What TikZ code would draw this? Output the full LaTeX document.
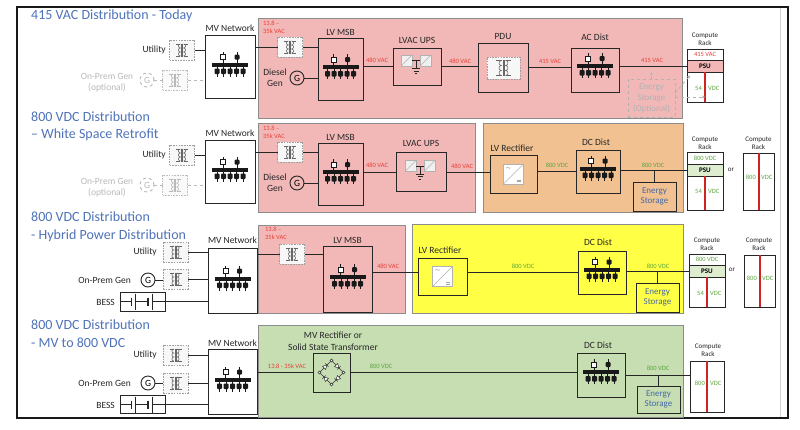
\documentclass[tikz,border=0pt]{standalone}
\usepackage{fontspec}
\setmainfont{Carlito}
\usetikzlibrary{arrows.meta}
\definecolor{pinkr}{RGB}{242,184,184}
\definecolor{orng}{RGB}{241,193,146}
\definecolor{yell}{RGB}{255,255,70}
\definecolor{grn}{RGB}{198,222,178}
\definecolor{vred}{RGB}{232,62,52}
\definecolor{vgrn}{RGB}{90,165,60}
\definecolor{ttl}{RGB}{79,115,185}
\definecolor{esb}{RGB}{70,105,165}
\definecolor{psug}{RGB}{222,236,208}
\definecolor{rline}{RGB}{205,35,35}
\tikzset{
 wire/.style={draw=black!85,line width=1pt},
 box/.style={draw=black!85,line width=1pt,inner sep=0pt,outer sep=0pt},
 region/.style={draw=black!45,line width=0.7pt},
 xbox/.style={draw=gray!75,dash pattern=on 1.6pt off 1.1pt,fill=gray!6,line width=0.7pt,minimum width=25,minimum height=20,inner sep=0pt,outer sep=0pt},
 lbl/.style={font=\fontsize{9.5}{11}\selectfont,inner sep=0pt,text=black!85,align=center},
 ttlf/.style={font=\fontsize{14}{17}\selectfont,text=ttl,inner sep=0pt,align=left,anchor=west},
 vac/.style={font=\fontsize{6.5}{8}\selectfont,text=vred,inner sep=0pt,align=left},
 vdc/.style={font=\fontsize{6.5}{8}\selectfont,text=vgrn,inner sep=0pt},
 sm/.style={font=\fontsize{7}{8.5}\selectfont,inner sep=0pt,text=black!85,align=center},
 gen/.style={circle,draw=black!85,line width=0.9pt,minimum size=14,inner sep=0pt,font=\fontsize{9.5}{9.5}\selectfont},
 rack/.style={draw=black!85,line width=1pt,fill=white,inner sep=0pt,outer sep=0pt},
 psub/.style={draw=black!85,line width=0.8pt,inner sep=0pt,outer sep=0pt,minimum height=12,font=\bfseries\fontsize{7}{7}\selectfont},
 esbox/.style={draw=black!85,line width=1pt,inner sep=0pt,outer sep=0pt,text=esb,font=\fontsize{9}{10.5}\selectfont,align=center},
 redl/.style={draw=rline,line width=2pt},
 dasharr/.style={draw=gray!60,dashed,line width=0.8pt,-{Stealth[length=3pt,width=3pt]}},
 busbar/.pic={
  \fill[black!90] (-18,-2) rectangle (18,2);
  \foreach \xx in {-13,-6.5,0,6.5,13}{
   \draw[black!90,line width=0.9pt] (\xx,2) -- (\xx,12);
   \fill[black!90,rounded corners=0.8pt] (\xx-2.5,4) rectangle (\xx+2.5,9.5);
  }
  \draw[black!90,line width=0.9pt] (-7,-2) -- (-7,-13);
  \draw[black!90,fill=white,line width=0.8pt] (-9.5,-10) rectangle (-4.5,-5);
  \draw[black!90,line width=0.9pt] (7,-2) -- (7,-13);
  \fill[black!90,rounded corners=1pt] (4.5,-10) rectangle (9.5,-5);
 },
 coil/.pic={
  \draw[line width=0.55pt] (-1.6,6) arc(90:270:2) arc(90:270:2) arc(90:270:2);
  \draw[line width=0.55pt] (1.6,6) arc(90:-90:2) arc(90:-90:2) arc(90:-90:2);
  \draw[line width=0.55pt] (-0.5,-6.5) -- (-0.5,6.5) (0.5,-6.5) -- (0.5,6.5);
  \draw[line width=0.55pt] (-1.6,-6) -- (-6,-6) (-1.6,6) -- (-6,6) (1.6,-6) -- (6,-6) (1.6,6) -- (6,6);
 },
 ups/.pic={
  \draw[gray!60,fill=gray!12,line width=0.6pt] (-16,-11.5) rectangle (-5,-0.5);
  \draw[gray!60,line width=0.6pt] (-16,-0.5) -- (-5,-11.5);
  \draw[gray!60,fill=gray!12,line width=0.6pt] (3,-11.5) rectangle (14,-0.5);
  \draw[gray!60,line width=0.6pt] (3,-0.5) -- (14,-11.5);
  \draw[black!85,line width=0.7pt] (-5,-6) -- (3,-6) (-1,-6) -- (-1,2);
  \draw[black!85,line width=0.7pt] (-5,2) -- (3,2) (-3.5,4.5) -- (1.5,4.5) (-2,7) -- (0,7);
 },
 rectif/.pic={
  \draw[gray!60,fill=white,line width=0.6pt] (-10,-10) rectangle (10,10);
  \draw[gray!60,line width=0.6pt] (-10,10) -- (10,-10);
  \node[font=\fontsize{5}{5}\selectfont,inner sep=0pt,text=black!70] at (-5,-5.5) {$\sim$};
  \draw[gray!70,line width=0.4pt] (3,6) -- (7,6) (3,7.5) -- (7,7.5);
 },
 bridge/.pic={
  \draw[black!80,line width=0.6pt] (0,-12) -- (12,0) -- (0,12) -- (-12,0) -- cycle;
  \foreach \aa in {45,135,225,315}{
   \begin{scope}[rotate=\aa]
    \draw[black!80,fill=white,line width=0.5pt] (6.2,-2) -- (10.8,-2) -- (8.5,2) -- cycle;
    \draw[black!80,line width=0.5pt] (6.2,2) -- (10.8,2);
   \end{scope}
  }
  \foreach \pp in {(0,-12),(12,0),(0,12),(-12,0)} \draw[black!80,fill=white,line width=0.5pt] \pp circle (1.5);
 },
 battery/.pic={
  \draw[black!85,line width=0.8pt] (-22.5,0) -- (-11,0) (-7.5,0) -- (5.5,0) (9.5,0) -- (22.5,0);
  \draw[black!85,line width=1.8pt] (-11,-4) -- (-11,4) (5.5,-4) -- (5.5,4);
  \draw[black!85,line width=0.8pt] (-7.5,-8) -- (-7.5,8) (9.5,-8) -- (9.5,8);
 }
}
\begin{document}
\begin{tikzpicture}[x=1pt,y=-1pt]
\useasboundingbox (0,0) rectangle (800,429);
\fill[white] (0,0) rectangle (800,429);
\draw[black!90,line width=1.5pt] (17,7) rectangle (788,418);
\draw[gray!35,line width=0.6pt] (780,8) -- (780,417);

%% ================= ROW 1 =================
\draw[region,fill=pinkr] (258,18) rectangle (682,118);
\node[ttlf] (ti1) at (31,16) {415 VAC Distribution - Today};
\node[lbl,anchor=east] (ut1) at (166,50) {Utility};
\node[xbox] (tu1) at (182,50) {}; \pic[black!60] at (tu1) {coil};
\node[lbl,text=gray!55] (op1) at (107,82.5) {On-Prem Gen\\(optional)};
\node[gen,draw=gray!55,dashed,text=gray!55] (g1) at (147,80) {G};
\node[xbox,draw=gray!50,fill=gray!4] (to1) at (175,80) {}; \pic[gray!55] at (to1) {coil};
\node[box,minimum width=50,minimum height=63] (mv1) at (230,66.5) {};
\pic at ([yshift=2pt]mv1.center) {busbar};
\node[lbl] (mvl1) at (230,28) {MV Network};
\draw[wire] (tu1.east) -- (tu1.east -| mv1.west);
\draw[wire,draw=gray!55,dashed] (g1.east) -- (to1.west);
\draw[wire,draw=gray!55,dashed] (to1.east) -- (to1.east -| mv1.west);
\node[xbox] (tm1) at (290,47) {}; \pic[black!60] at (tm1) {coil};
\node[vac,anchor=west] (va1) at (263,27.5) {13.8 –\\35k VAC};
\node[box,minimum width=45,minimum height=62] (msb1) at (340.5,69) {};
\pic at ([yshift=2pt]msb1.center) {busbar};
\node[lbl] (msbl1) at (340.5,32) {LV MSB};
\draw[wire] (tm1.west -| mv1.east) -- (tm1.west);
\draw[wire] (tm1.east) -- (tm1.east -| msb1.west);
\node[lbl] (dg1) at (275,77.5) {Diesel\\Gen};
\node[gen] (gd1) at (297,78) {G};
\draw[wire] (gd1.east) -- (gd1.east -| msb1.west);
\node[box,minimum width=48,minimum height=37] (ups1) at (417,66.5) {};
\pic at (ups1) {ups};
\node[lbl] (upl1) at (417,40) {LVAC UPS};
\draw[wire] (ups1.west -| msb1.east) -- (ups1.west);
\node[vac] (vb1) at (377,60.5) {480 VAC};
\node[box,minimum width=50,minimum height=49] (pdu1) at (503,67.5) {};
\node[xbox,minimum width=33,minimum height=22] (pdx1) at (503.5,68) {};
\pic[black!60,scale=1.25] at (pdx1) {coil};
\node[lbl] (pdl1) at (503,36.5) {PDU};
\draw[wire] (ups1.east) -- (ups1.east -| pdu1.west);
\node[vac] (vc1) at (460,61) {480 VAC};
\node[box,minimum width=48,minimum height=44] (acd1) at (595,70) {};
\pic at ([yshift=4pt]acd1.center) {busbar};
\node[lbl] (acl1) at (595,37) {AC Dist};
\draw[wire] (pdu1.east) -- (pdu1.east -| acd1.west);
\node[vac] (vd1) at (550,61) {415 VAC};
\node[rack,minimum width=36,minimum height=53] (rk1) at (705,75.5) {};
\node[psub,fill=pinkr,minimum width=36] (ps1) at (705,66) {PSU};
\node[vac] (vr1) at (705,54.5) {415 VAC};
\draw[redl] (ps1.south) -- (rk1.south);
\node[vdc,anchor=east] (v54a1) at (702,88) {54};
\node[vdc,anchor=west] (v54b1) at (708,88) {VDC};
\node[sm] (crl1) at (705,39.5) {Compute\\Rack};
\draw[wire] (acd1.east |- ps1.west) -- (ps1.west);
\node[vac] (ve1) at (652,60) {415 VAC};
\node[draw=gray!60,dashed,line width=0.8pt,minimum width=47,minimum height=38,inner sep=0pt,outer sep=0pt,align=center,text=gray!60,font=\fontsize{9}{11}\selectfont] (es1) at (651.5,98) {Energy\\Storage\\(Optional)};
\draw[dasharr] (es1.north) -- (es1.north |- ps1.south);
\draw[dasharr] ([yshift=5pt]es1.east) -- ([xshift=3pt]rk1.west);
\draw[dasharr] ([yshift=1pt]es1.east) -- ([yshift=1pt]es1.east -| ps1.south);

%% ================= ROW 2 =================
\draw[region,fill=pinkr] (258,123) rectangle (475,212);
\draw[region,fill=orng] (483,123) rectangle (683,212);
\node[ttlf] (ti2) at (31,126) {800 VDC Distribution\\– White Space Retrofit};
\node[lbl,anchor=east] (ut2) at (166,155) {Utility};
\node[xbox] (tu2) at (182,155) {}; \pic[black!60] at (tu2) {coil};
\node[lbl,text=gray!55] (op2) at (107,187.5) {On-Prem Gen\\(optional)};
\node[gen,draw=gray!55,dashed,text=gray!55] (g2) at (147,185) {G};
\node[xbox,draw=gray!50,fill=gray!4] (to2) at (175,185) {}; \pic[gray!55] at (to2) {coil};
\node[box,minimum width=50,minimum height=63] (mv2) at (230,171.5) {};
\pic at ([yshift=2pt]mv2.center) {busbar};
\node[lbl] (mvl2) at (230,133) {MV Network};
\draw[wire] (tu2.east) -- (tu2.east -| mv2.west);
\draw[wire,draw=gray!55,dashed] (g2.east) -- (to2.west);
\draw[wire,draw=gray!55,dashed] (to2.east) -- (to2.east -| mv2.west);
\node[xbox] (tm2) at (290,152) {}; \pic[black!60] at (tm2) {coil};
\node[vac,anchor=west] (va2) at (263,132.5) {13.8 –\\35k VAC};
\node[box,minimum width=45,minimum height=62] (msb2) at (340.5,174) {};
\pic at ([yshift=2pt]msb2.center) {busbar};
\node[lbl] (msbl2) at (340.5,137) {LV MSB};
\draw[wire] (tm2.west -| mv2.east) -- (tm2.west);
\draw[wire] (tm2.east) -- (tm2.east -| msb2.west);
\node[lbl] (dg2) at (275,182.5) {Diesel\\Gen};
\node[gen] (gd2) at (297,183) {G};
\draw[wire] (gd2.east) -- (gd2.east -| msb2.west);
\node[box,minimum width=50,minimum height=39] (ups2) at (421,172) {};
\pic at (ups2) {ups};
\node[lbl] (upl2) at (421,143) {LVAC UPS};
\draw[wire] (ups2.west -| msb2.east) -- (ups2.west);
\node[vac] (vb2) at (377,165) {480 VAC};
\node[vac] (vc2) at (462,166) {480 VAC};
\node[box,minimum width=47,minimum height=38] (rec2) at (513.5,174) {};
\pic at (rec2) {rectif};
\node[lbl] (recl2) at (512,148) {LV Rectifier};
\draw[wire] (ups2.east) -- (ups2.east -| rec2.west);
\node[box,minimum width=44,minimum height=43] (dcd2) at (598,171.5) {};
\pic at ([yshift=3pt]dcd2.center) {busbar};
\node[lbl] (dcl2) at (596,142) {DC Dist};
\draw[wire] (rec2.east |- dcd2.west) -- (dcd2.west);
\node[vdc] (vd2) at (557,165) {800 VDC};
\node[rack,minimum width=36,minimum height=58] (rk2) at (705,181) {};
\node[psub,fill=psug,minimum width=36] (ps2) at (705,170) {PSU};
\node[vdc] (vr2) at (705,158) {800 VDC};
\draw[redl] (ps2.south) -- (rk2.south);
\node[vdc,anchor=east] (v54a2) at (702,191) {54};
\node[vdc,anchor=west] (v54b2) at (708,191) {VDC};
\node[sm] (crl2) at (705,143) {Compute\\Rack};
\draw[wire] (dcd2.east |- ps2.west) -- (ps2.west);
\node[vdc] (ve2) at (653,165) {800 VDC};
\node[esbox,minimum width=43,minimum height=29] (es2) at (654.5,196.5) {Energy\\Storage};
\draw[wire] (es2.north) -- (es2.north |- ps2.west);
\node[sm] (or2) at (731,170) {or};
\node[rack,minimum width=31,minimum height=57] (rkb2) at (758.5,181.5) {};
\draw[redl] (rkb2.north) -- (rkb2.south);
\node[vdc,anchor=east] (v8a2) at (756,177) {800};
\node[vdc,anchor=west] (v8b2) at (761,177) {VDC};
\node[sm] (crlb2) at (758.5,143) {Compute\\Rack};

%% ================= ROW 3 =================
\draw[region,fill=pinkr] (258,225) rectangle (405,313);
\draw[region,fill=yell] (412,224) rectangle (683,313);
\node[ttlf,font=\fontsize{14}{18}\selectfont] (ti3) at (31,227) {800 VDC Distribution\\- Hybrid Power Distribution};
\node[lbl,anchor=east] (ut3) at (157,252) {Utility};
\node[xbox] (tu3) at (175.5,252) {}; \pic[black!60] at (tu3) {coil};
\node[lbl,anchor=east] (op3) at (131,280) {On-Prem Gen};
\node[gen] (g3) at (148,280) {G};
\node[xbox] (to3) at (175.5,279) {}; \pic[black!60] at (to3) {coil};
\node[lbl,anchor=east] (bs3) at (115,302) {BESS};
\node[box,minimum width=45,minimum height=19] (bt3) at (142.5,301.5) {};
\pic at (bt3) {battery};
\node[box,minimum width=49,minimum height=65] (mv3) at (232.5,280.5) {};
\pic at ([yshift=2pt]mv3.center) {busbar};
\node[lbl] (mvl3) at (232.5,240) {MV Network};
\draw[wire] (tu3.east) -- (tu3.east -| mv3.west);
\draw[wire] (g3.east) -- (g3.east -| to3.west);
\draw[wire] (to3.east) -- (to3.east -| mv3.west);
\draw[wire] (bt3.east) -- (bt3.east -| mv3.west);
\node[xbox] (tm3) at (292,254) {}; \pic[black!60] at (tm3) {coil};
\node[vac,anchor=west] (va3) at (265,233) {13.8 –\\35k VAC};
\node[box,minimum width=49,minimum height=66] (msb3) at (347.5,279) {};
\pic at ([yshift=2pt]msb3.center) {busbar};
\node[lbl] (msbl3) at (347.5,240) {LV MSB};
\draw[wire] (tm3.west -| mv3.east) -- (tm3.west);
\draw[wire] (tm3.east) -- (tm3.east -| msb3.west);
\node[vac] (vb3) at (388,266) {480 VAC};
\node[box,minimum width=49,minimum height=37] (rec3) at (442.5,276.5) {};
\pic at (rec3) {rectif};
\node[lbl] (recl3) at (440,250) {LV Rectifier};
\node[box,minimum width=48,minimum height=43] (dcd3) at (602,272.5) {};
\pic at ([yshift=3pt]dcd3.center) {busbar};
\node[lbl] (dcl3) at (598,242) {DC Dist};
\draw[wire] (dcd3.west -| msb3.east) -- (dcd3.west -| rec3.west);
\draw[wire] (dcd3.west -| rec3.east) -- (dcd3.west);
\node[vdc] (vc3) at (523,266) {800 VDC};
\node[rack,minimum width=36,minimum height=53] (rk3) at (707,280.5) {};
\node[psub,fill=psug,minimum width=36] (ps3) at (707,271) {PSU};
\node[vdc] (vr3) at (707,259.5) {800 VDC};
\draw[redl] (ps3.south) -- (rk3.south);
\node[vdc,anchor=east] (v54a3) at (704,293) {54};
\node[vdc,anchor=west] (v54b3) at (710,293) {VDC};
\node[sm] (crl3) at (707,244) {Compute\\Rack};
\draw[wire] (dcd3.east |- ps3.west) -- (ps3.west);
\node[vdc] (vd3) at (658,266) {800 VDC};
\node[esbox,minimum width=43,minimum height=29] (es3) at (657.5,297.5) {Energy\\Storage};
\draw[wire] (es3.north) -- (es3.north |- ps3.west);
\node[sm] (or3) at (732,270) {or};
\node[rack,minimum width=31,minimum height=52] (rkb3) at (759.5,281) {};
\draw[redl] (rkb3.north) -- (rkb3.south);
\node[vdc,anchor=east] (v8a3) at (757,278) {800};
\node[vdc,anchor=west] (v8b3) at (762,278) {VDC};
\node[sm] (crlb3) at (759,244) {Compute\\Rack};

%% ================= ROW 4 =================
\draw[region,fill=grn] (258,325) rectangle (683,417);
\node[ttlf,font=\fontsize{14}{18}\selectfont] (ti4) at (31,334) {800 VDC Distribution\\- MV to 800 VDC};
\node[lbl,anchor=east] (ut4) at (157,355) {Utility};
\node[xbox] (tu4) at (175.5,355) {}; \pic[black!60] at (tu4) {coil};
\node[lbl,anchor=east] (op4) at (131,383) {On-Prem Gen};
\node[gen] (g4) at (148,383) {G};
\node[xbox] (to4) at (175.5,383) {}; \pic[black!60] at (to4) {coil};
\node[lbl,anchor=east] (bs4) at (115,405) {BESS};
\node[box,minimum width=45,minimum height=18] (bt4) at (142.5,404.5) {};
\pic at (bt4) {battery};
\node[box,minimum width=49,minimum height=65] (mv4) at (232.5,381.5) {};
\pic at ([yshift=2pt]mv4.center) {busbar};
\node[lbl] (mvl4) at (232.5,343) {MV Network};
\draw[wire] (tu4.east) -- (tu4.east -| mv4.west);
\draw[wire] (g4.east) -- (g4.east -| to4.west);
\draw[wire] (to4.east) -- (to4.east -| mv4.west);
\draw[wire] (bt4.east) -- (bt4.east -| mv4.west);
\node[box,minimum width=37,minimum height=39] (mvr4) at (331.5,372.5) {};
\pic at (mvr4) {bridge};
\node[lbl,font=\fontsize{9.5}{12}\selectfont] (mvrl4) at (333,341) {MV Rectifier or\\Solid State Transformer};
\draw[wire] (mvr4.west -| mv4.east) -- (mvr4.west);
\node[vac] (va4) at (287,366) {13.8 - 35k VAC};
\node[box,minimum width=48,minimum height=44] (dcd4) at (601,375) {};
\pic at ([yshift=3pt]dcd4.center) {busbar};
\node[lbl] (dcl4) at (598,345) {DC Dist};
\draw[wire] (mvr4.east) -- (mvr4.east -| dcd4.west);
\node[vdc] (vb4) at (381,366) {800 VDC};
\node[rack,minimum width=34,minimum height=51] (rk4) at (707,386.5) {};
\draw[redl] (rk4.north) -- (rk4.south);
\node[vdc,anchor=east] (v8a4) at (705,383) {800};
\node[vdc,anchor=west] (v8b4) at (710,383) {VDC};
\node[sm] (crl4) at (708,350) {Compute\\Rack};
\draw[wire] (dcd4.east) -- (dcd4.east -| rk4.west);
\node[vdc] (vc4) at (658,368) {800 VDC};
\node[esbox,minimum width=43,minimum height=27] (es4) at (658.5,399.5) {Energy\\Storage};
\draw[wire] (es4.north) -- (es4.north |- dcd4.east);
\end{tikzpicture}
\end{document}
